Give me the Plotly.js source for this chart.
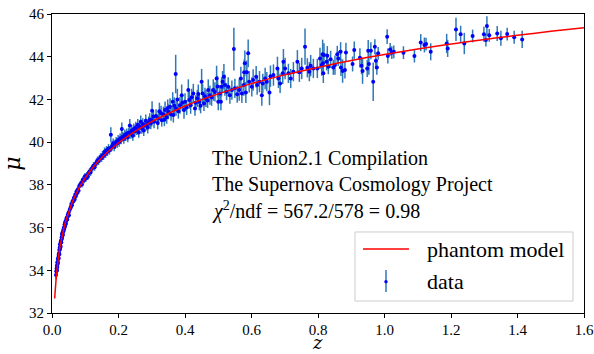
<!DOCTYPE html>
<html>
<head>
<meta charset="utf-8">
<script src="https://cdn.plot.ly/plotly-3.0.1.min.js"></script>
<style>html,body{margin:0;padding:0;background:#fff;}#chart{width:594px;height:354px;}</style>
</head>
<body>
<div id="chart"></div>
<script>
// Phantom model curve
const zModel = [0.008,0.015,0.02,0.025,0.03,0.04,0.05,0.06,0.07,0.08,0.09,0.10,0.12,0.15,0.20,0.25,0.30,0.35,0.40,0.45,0.50,0.60,0.70,0.80,0.90,1.00,1.10,1.20,1.30,1.40,1.50,1.60];
const muModel = [32.68,34.05,34.68,35.19,35.57,36.24,36.69,37.15,37.50,37.81,38.08,38.32,38.75,39.28,39.96,40.50,40.96,41.34,41.69,41.99,42.26,42.74,43.15,43.50,43.82,44.10,44.36,44.59,44.81,45.00,45.19,45.36];

// Supernova data (z, distance modulus, error)
const zData = [
0.012,0.013,0.014,0.015,0.015,0.016,0.016,0.017,0.018,0.018,0.019,0.020,0.020,0.021,0.022,0.022,0.023,0.024,0.024,0.025,0.026,0.026,0.027,0.028,0.029,0.030,0.030,0.031,0.032,0.033,0.034,0.035,0.036,0.037,0.038,0.039,0.040,0.041,0.042,0.043,0.045,0.046,0.048,0.050,0.051,0.053,0.055,0.057,0.058,0.060,0.062,0.064,0.066,0.068,0.070,0.072,0.074,0.076,0.078,0.080,0.082,0.085,0.088,0.090,0.093,0.096,0.099,
0.102,0.105,0.108,0.110,0.113,0.116,0.119,0.122,0.125,0.128,0.131,0.134,0.137,0.140,0.143,0.146,0.149,0.152,0.155,0.158,0.161,0.164,0.167,0.170,0.173,0.177,0.178,0.181,0.184,0.187,0.190,0.193,0.196,0.199,0.202,0.205,0.208,0.210,0.213,0.216,0.219,0.222,0.225,0.228,0.231,0.234,0.237,0.240,0.243,0.246,0.249,0.252,0.255,0.258,0.261,0.264,0.267,0.270,0.273,0.276,0.279,0.282,0.285,0.288,0.291,0.294,0.297,
0.300,0.301,0.305,0.307,0.313,0.318,0.320,0.323,0.328,0.330,0.335,0.338,0.340,0.345,0.348,0.350,0.355,0.358,0.363,0.365,0.368,0.372,0.373,0.377,0.380,0.385,0.390,0.392,0.397,0.400,0.405,0.410,0.413,0.417,0.420,0.425,0.430,0.432,0.437,0.440,0.443,0.447,0.450,0.453,0.457,0.460,0.463,0.468,0.470,0.475,0.480,0.485,0.490,0.495,0.498,0.500,0.505,0.510,0.520,0.525,
0.508,0.513,0.517,0.530,0.535,0.541,0.547,0.550,0.557,0.563,0.568,0.571,0.577,0.578,0.580,0.583,0.586,0.590,0.593,0.601,0.605,0.614,0.617,0.624,0.631,0.634,0.641,0.646,0.654,0.657,0.666,0.678,0.681,0.686,0.694,0.696,0.701,0.711,0.718,0.726,0.738,0.744,0.751,0.761,0.768,0.774,0.778,0.786,0.798,0.806,0.811,0.818,
0.814,0.815,0.816,0.826,0.828,0.831,0.838,0.846,0.851,0.858,0.861,0.868,0.869,0.874,0.881,0.884,0.904,0.909,0.926,0.931,0.934,0.948,0.951,0.953,0.959,0.966,0.971,0.974,0.977,0.981,1.008,1.010,1.017,1.022,1.028,
1.057,1.090,1.109,1.120,1.125,1.139,1.187,1.190,1.215,1.229,1.240,1.265,1.299,1.305,1.308,1.315,1.339,1.350,1.369,1.390,1.414
];
const muData = [
33.78,33.95,34.10,34.00,34.22,34.15,34.38,34.30,34.52,34.35,34.60,34.72,34.55,34.80,34.95,34.75,35.05,34.98,35.22,35.15,35.32,35.10,35.40,35.30,35.55,35.48,35.70,35.62,35.78,35.66,35.90,35.84,36.02,35.95,36.15,36.05,36.25,36.30,36.18,36.40,36.48,36.38,36.62,36.70,36.58,36.82,36.90,36.98,37.10,37.05,37.25,37.22,37.40,37.32,37.55,37.48,37.70,37.62,37.80,37.72,37.95,38.00,38.10,38.02,38.25,38.20,38.40,
38.30,38.45,38.38,38.55,38.62,38.58,38.75,38.80,38.90,38.82,38.98,39.05,39.15,39.10,39.22,39.30,39.25,39.40,39.35,39.55,39.45,39.62,39.55,39.70,39.62,40.35,39.75,39.82,39.95,39.78,39.90,40.02,39.95,40.10,40.00,40.18,40.12,40.62,40.25,40.15,40.35,40.28,40.40,40.22,40.45,40.78,40.40,40.55,40.30,40.62,40.50,40.70,40.58,40.82,40.45,40.72,40.95,40.65,40.85,40.55,40.78,41.00,40.82,40.68,40.92,41.05,40.88,
41.03,41.47,41.20,40.95,41.22,40.90,41.11,41.45,41.35,41.03,41.31,41.05,41.50,41.16,41.60,41.42,41.66,41.30,41.89,41.27,41.70,43.19,41.58,42.00,41.45,41.73,42.20,41.85,41.50,41.89,41.62,42.44,41.97,41.73,42.10,42.28,41.58,41.85,42.05,42.25,41.89,41.70,42.83,42.28,41.81,42.15,42.05,41.95,42.44,42.20,42.10,42.44,42.35,42.98,42.60,41.89,42.28,42.59,42.67,42.36,
41.89,42.83,43.06,42.59,42.20,42.44,44.36,42.52,42.24,42.44,42.98,42.28,42.67,43.27,43.69,42.33,43.27,44.16,42.83,42.59,42.91,43.06,42.67,42.83,42.20,42.75,42.98,42.83,42.33,43.09,43.14,43.45,42.98,42.75,43.22,43.76,43.45,43.22,42.98,43.30,43.76,43.27,43.45,44.47,43.48,43.30,43.58,43.45,43.45,43.92,43.61,44.08,
44.12,43.69,43.22,43.76,44.05,43.53,43.88,43.50,43.61,44.11,43.92,44.23,43.50,43.33,43.38,44.20,43.66,44.31,43.95,43.58,43.33,43.45,44.28,43.66,44.28,42.83,44.47,43.81,43.50,44.16,44.94,44.03,44.34,44.19,44.23,
44.19,44.03,44.66,44.55,44.59,44.23,44.62,44.39,45.28,45.05,44.62,44.97,45.05,44.78,45.44,45.00,45.09,44.86,45.06,44.91,44.81
];
const errData = [
0.22,0.20,0.20,0.18,0.20,0.19,0.20,0.18,0.18,0.20,0.17,0.18,0.17,0.17,0.17,0.16,0.16,0.17,0.16,0.16,0.16,0.15,0.16,0.15,0.16,0.15,0.16,0.15,0.15,0.15,0.15,0.14,0.15,0.14,0.14,0.14,0.14,0.14,0.14,0.14,0.14,0.13,0.14,0.13,0.13,0.13,0.13,0.13,0.14,0.13,0.14,0.13,0.13,0.13,0.14,0.13,0.14,0.13,0.14,0.13,0.14,0.14,0.14,0.14,0.14,0.14,0.15,
0.15,0.15,0.15,0.16,0.16,0.16,0.16,0.17,0.17,0.16,0.17,0.18,0.18,0.17,0.18,0.18,0.18,0.19,0.18,0.20,0.19,0.20,0.20,0.21,0.20,0.35,0.20,0.21,0.22,0.21,0.22,0.22,0.22,0.23,0.22,0.23,0.22,0.30,0.23,0.22,0.24,0.23,0.24,0.23,0.24,0.30,0.24,0.25,0.24,0.25,0.25,0.26,0.25,0.26,0.25,0.26,0.30,0.26,0.27,0.26,0.27,0.30,0.27,0.27,0.28,0.30,0.28,
0.30,0.45,0.30,0.30,0.32,0.30,0.30,0.40,0.35,0.30,0.35,0.30,0.40,0.30,0.40,0.35,0.40,0.30,0.45,0.35,0.40,0.90,0.35,0.50,0.35,0.40,0.50,0.40,0.40,0.40,0.35,0.50,0.40,0.40,0.40,0.45,0.35,0.35,0.40,0.45,0.40,0.35,0.60,0.45,0.35,0.40,0.40,0.35,0.50,0.45,0.40,0.50,0.45,0.60,0.50,0.40,0.40,0.45,0.50,0.40,
0.40,0.50,0.60,0.45,0.40,0.45,1.00,0.45,0.40,0.50,0.55,0.45,0.50,0.60,0.60,0.50,0.55,0.65,0.50,0.45,0.50,0.50,0.45,0.50,0.50,0.45,0.50,0.45,0.60,0.50,0.50,0.55,0.45,0.45,0.50,0.60,0.50,0.45,0.45,0.45,0.55,0.45,0.50,0.85,0.45,0.45,0.50,0.45,0.45,0.50,0.50,0.55,
0.68,0.40,0.45,0.40,0.45,0.35,0.40,0.35,0.45,0.40,0.35,0.45,0.40,0.55,0.40,0.45,0.35,0.40,0.45,0.40,0.60,0.40,0.50,0.50,0.40,0.90,0.35,0.40,0.35,0.30,0.35,0.35,0.30,0.30,0.30,
0.30,0.30,0.40,0.35,0.30,0.40,0.45,0.40,0.55,0.40,0.50,0.30,0.35,0.30,0.45,0.30,0.35,0.35,0.30,0.30,0.40
];

const xTicks = [0,0.2,0.4,0.6,0.8,1.0,1.2,1.4,1.6];
const xTickText = ['0.0','0.2','0.4','0.6','0.8','1.0','1.2','1.4','1.6'];
const yTicks = [32,34,36,38,40,42,44,46];
const yTickText = ['32','34','36','38','40','42','44','46'];
const infoLines = ['The Union2.1 Compilation','The Supernova Cosmology Project','<i>χ</i><sup>2</sup>/ndf = 567.2/578 = 0.98'];
const legendLabels = ['phantom model','data'];
const xTitle = '<i>z</i>';
const yTitle = '<i>μ</i>';

const FONT = 'Liberation Serif';
const TITLEFONT = 'DejaVu Serif';

const traces = [
  {
    x: zData, y: muData, type: 'scatter', mode: 'markers',
    marker: {color: '#0000ff', size: 4, symbol: 'circle'},
    error_y: {type: 'data', array: errData, visible: true, color: '#2f78b8', thickness: 1.5, width: 0},
    showlegend: false, hoverinfo: 'skip'
  },
  {
    x: zModel, y: muModel, type: 'scatter', mode: 'lines',
    line: {color: '#ff0000', width: 1.5, shape: 'spline'},
    showlegend: false, hoverinfo: 'skip'
  }
];

function axisBase() {
  return {
    showline: true, linecolor: '#000', linewidth: 1, mirror: true,
    ticks: 'outside', ticklen: 4, tickwidth: 1, tickcolor: '#000',
    showgrid: false, zeroline: false,
    tickfont: {family: FONT, size: 15, color: '#000'}
  };
}

const annotations = infoLines.map((t, i) => ({
  xref: 'paper', yref: 'paper', x: 0.297, y: [0.518, 0.431, 0.344][i],
  xanchor: 'left', yanchor: 'middle', showarrow: false, text: t,
  font: {family: FONT, size: 20, color: '#000'}
}));
annotations.push({xref:'paper', yref:'paper', x:0.701, y:0.214, xanchor:'left', yanchor:'middle', showarrow:false, text: legendLabels[0], font:{family: FONT, size: 22, color:'#000'}});
annotations.push({xref:'paper', yref:'paper', x:0.701, y:0.105, xanchor:'left', yanchor:'middle', showarrow:false, text: legendLabels[1], font:{family: FONT, size: 22, color:'#000'}});
// x-axis title placed just below the tick labels
annotations.push({xref:'paper', yref:'paper', x:0.4985, y:-0.137, xanchor:'center', yanchor:'bottom', showarrow:false, text: xTitle, font:{family: TITLEFONT, size: 18, color:'#000'}, borderpad: 0});

const shapes = [
  {type:'rect', xref:'paper', yref:'paper', x0:0.5695, x1:0.9793, y0:0.040, y1:0.271,
   line:{color:'#cccccc', width:1}, fillcolor:'rgba(255,255,255,0.8)', layer:'above'},
  {type:'line', xref:'paper', yref:'paper', x0:0.5846, x1:0.671, y0:0.214, y1:0.214, line:{color:'#ff0000', width:1.5}, layer:'above'},
  {type:'line', xref:'paper', yref:'paper', x0:0.6278, x1:0.6278, y0:0.0702, y1:0.1438, line:{color:'#2f78b8', width:1.5}, layer:'above'},
  {type:'circle', xref:'paper', yref:'paper', x0:0.6246, x1:0.6310, y0:0.0994, y1:0.1100, line:{color:'#0000ff', width:0}, fillcolor:'#0000ff', layer:'above'}
];

const layout = {
  width: 594, height: 354,
  margin: {l: 52, r: 10, t: 14, b: 41, pad: 0},
  paper_bgcolor: '#fff', plot_bgcolor: '#fff',
  font: {family: FONT, color: '#000'},
  xaxis: Object.assign(axisBase(), {range: [0, 1.6], tickmode: 'array', tickvals: xTicks, ticktext: xTickText, ticklabelstandoff: -1}),
  yaxis: Object.assign(axisBase(), {range: [32, 46], tickmode: 'array', tickvals: yTicks, ticktext: yTickText,
    title: {text: yTitle, font: {family: TITLEFONT, size: 22, color: '#000'}}}),
  annotations: annotations,
  shapes: shapes,
  showlegend: false
};

Plotly.newPlot('chart', traces, layout, {displayModeBar: false, staticPlot: true});
</script>
</body>
</html>
